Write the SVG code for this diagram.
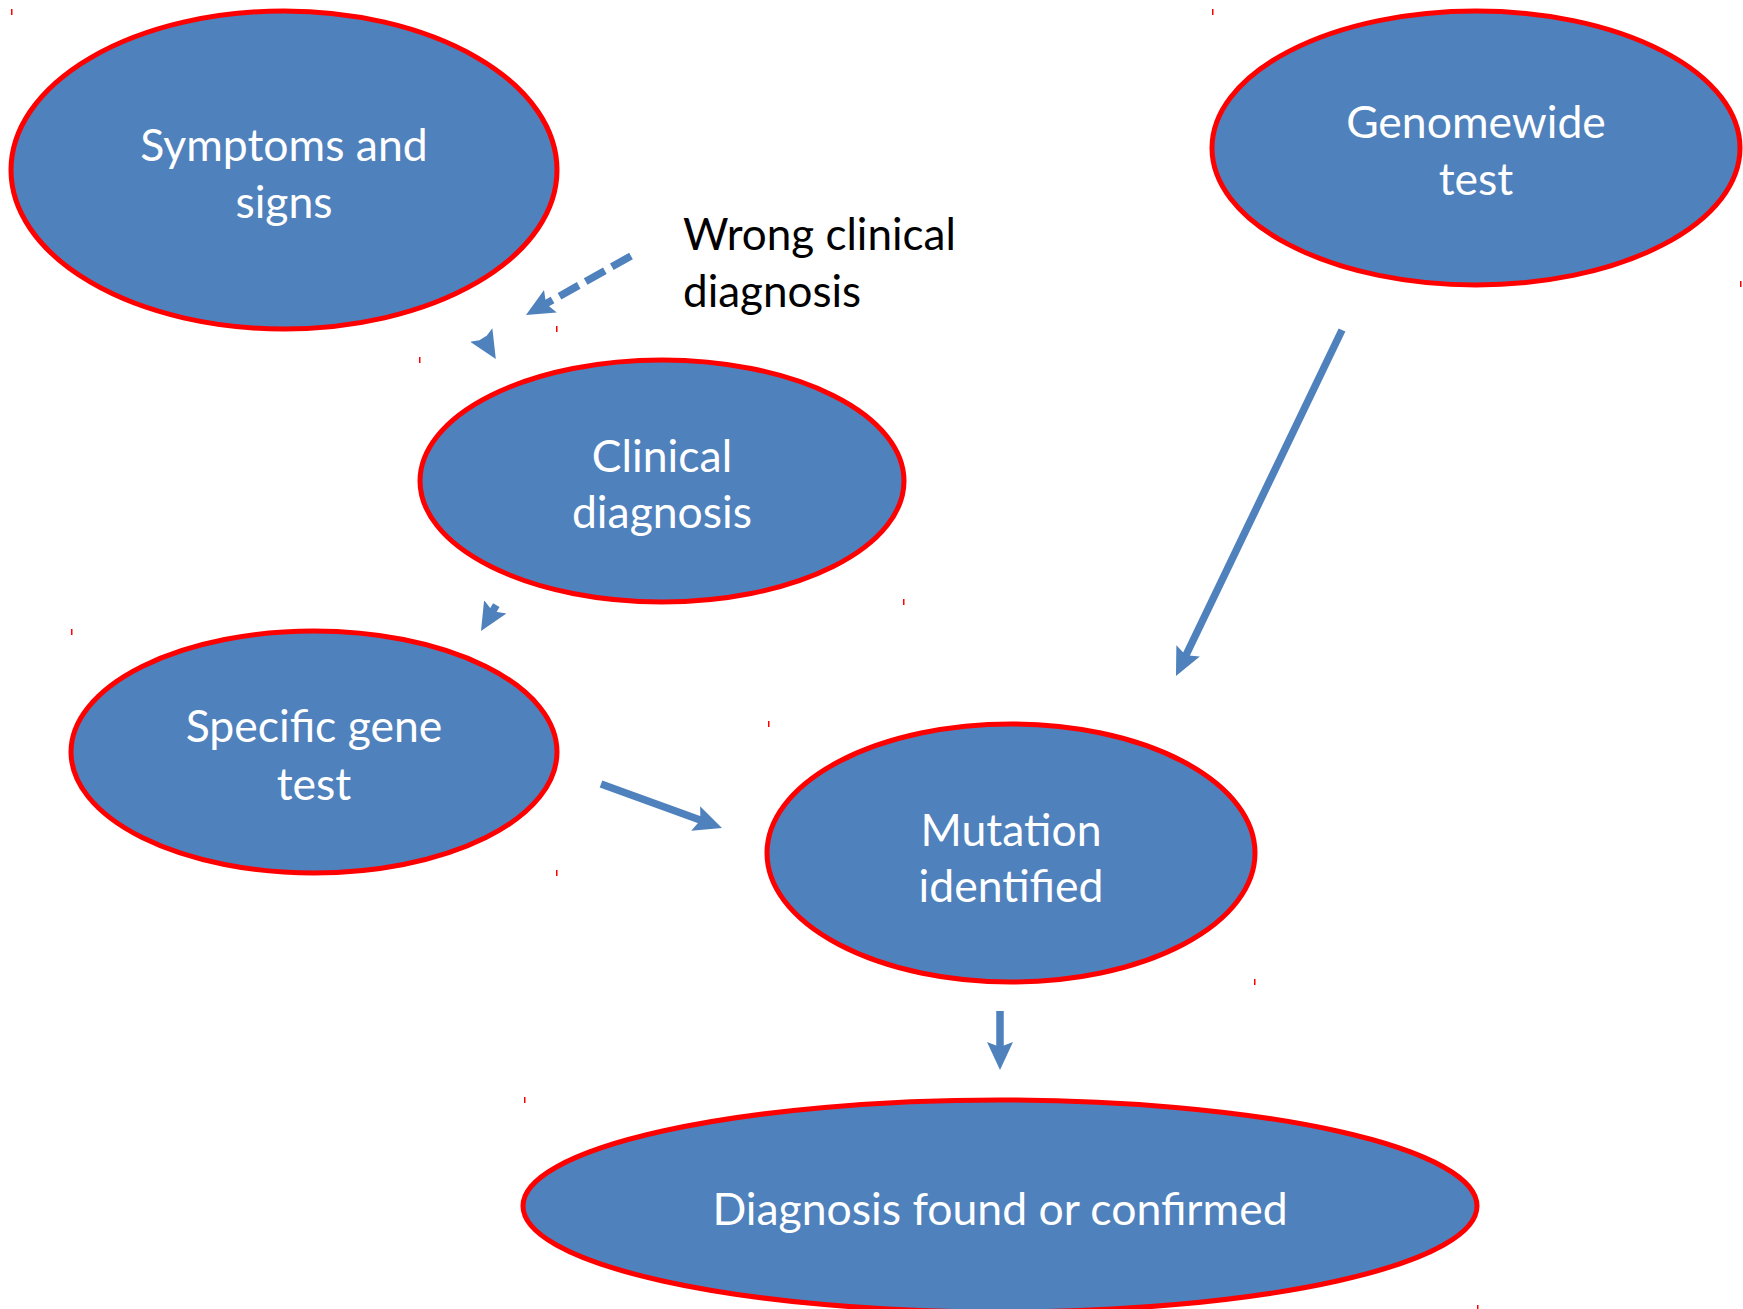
<svg xmlns="http://www.w3.org/2000/svg" width="1743" height="1309" viewBox="0 0 1743 1309">
<style>
.node{fill:#4F81BD;stroke:#FF0000;stroke-width:5}
.lbl{font-family:Lato,"Liberation Sans",sans-serif;font-size:44.5px;fill:#FFFFFF;text-anchor:middle}
.note{font-family:Lato,"Liberation Sans",sans-serif;font-size:44px;fill:#000000}
.conn{fill:none;stroke:#4F81BD;stroke-width:7.5;marker-end:url(#ah)}
.tick{fill:#FF0000}
</style>
<defs>
<marker id="ah" markerUnits="userSpaceOnUse" viewBox="0 0 28 28" refX="18" refY="14" markerWidth="28" markerHeight="28" orient="auto">
<path d="M0,1 L28,14 L0,27 L5,14 Z" fill="#4F81BD"/>
</marker>
</defs>
<g id="ticks">
<rect class="tick" x="11" y="9" width="1.5" height="6"/>
<rect class="tick" x="556" y="326" width="1.5" height="6"/>
<rect class="tick" x="419" y="357" width="1.5" height="6"/>
<rect class="tick" x="903" y="599" width="1.5" height="6"/>
<rect class="tick" x="1212" y="9" width="1.5" height="6"/>
<rect class="tick" x="1740" y="281" width="1.5" height="6"/>
<rect class="tick" x="71" y="629" width="1.5" height="6"/>
<rect class="tick" x="556" y="870" width="1.5" height="6"/>
<rect class="tick" x="768" y="721" width="1.5" height="6"/>
<rect class="tick" x="1254" y="979" width="1.5" height="6"/>
<rect class="tick" x="524" y="1097" width="1.5" height="6"/>
<rect class="tick" x="1477" y="1305" width="1.5" height="4"/>
</g>
<g id="connectors">
<path class="conn" d="M631,256 L534.7,310.1" stroke-dasharray="22 8"/>
<path class="conn" d="M483,338 L490.6,350.5"/>
<path class="conn" d="M496.3,605.2 L486.1,622.4"/>
<path class="conn" d="M601,784 L712.6,824.6"/>
<path class="conn" d="M1342,330 L1180.3,667"/>
<path class="conn" d="M1000,1011 L1000,1060"/>
</g>
<g id="symptoms">
<ellipse class="node" cx="284" cy="170" rx="273" ry="159"/>
<text class="lbl" x="284" y="161">Symptoms and</text>
<text class="lbl" x="284" y="218">signs</text>
</g>
<g id="genomewide">
<ellipse class="node" cx="1476" cy="148" rx="264" ry="137"/>
<text class="lbl" x="1476" y="138">Genomewide</text>
<text class="lbl" x="1476" y="195">test</text>
</g>
<g id="wrong-clinical-diagnosis">
<text class="note" x="683" y="250">Wrong clinical</text>
<text class="note" x="683" y="307">diagnosis</text>
</g>
<g id="clinical">
<ellipse class="node" cx="662" cy="481" rx="242" ry="121"/>
<text class="lbl" x="662" y="472">Clinical</text>
<text class="lbl" x="662" y="528">diagnosis</text>
</g>
<g id="specific">
<ellipse class="node" cx="314" cy="752" rx="243" ry="121"/>
<text class="lbl" x="314" y="742">Specific gene</text>
<text class="lbl" x="314" y="800">test</text>
</g>
<g id="mutation">
<ellipse class="node" cx="1011" cy="853" rx="244" ry="129"/>
<text class="lbl" x="1011" y="846">Mutation</text>
<text class="lbl" x="1011" y="902">identified</text>
</g>
<g id="diagnosis">
<ellipse class="node" cx="1000" cy="1206" rx="477" ry="106"/>
<text class="lbl" x="1000" y="1225">Diagnosis found or confirmed</text>
</g>
</svg>
